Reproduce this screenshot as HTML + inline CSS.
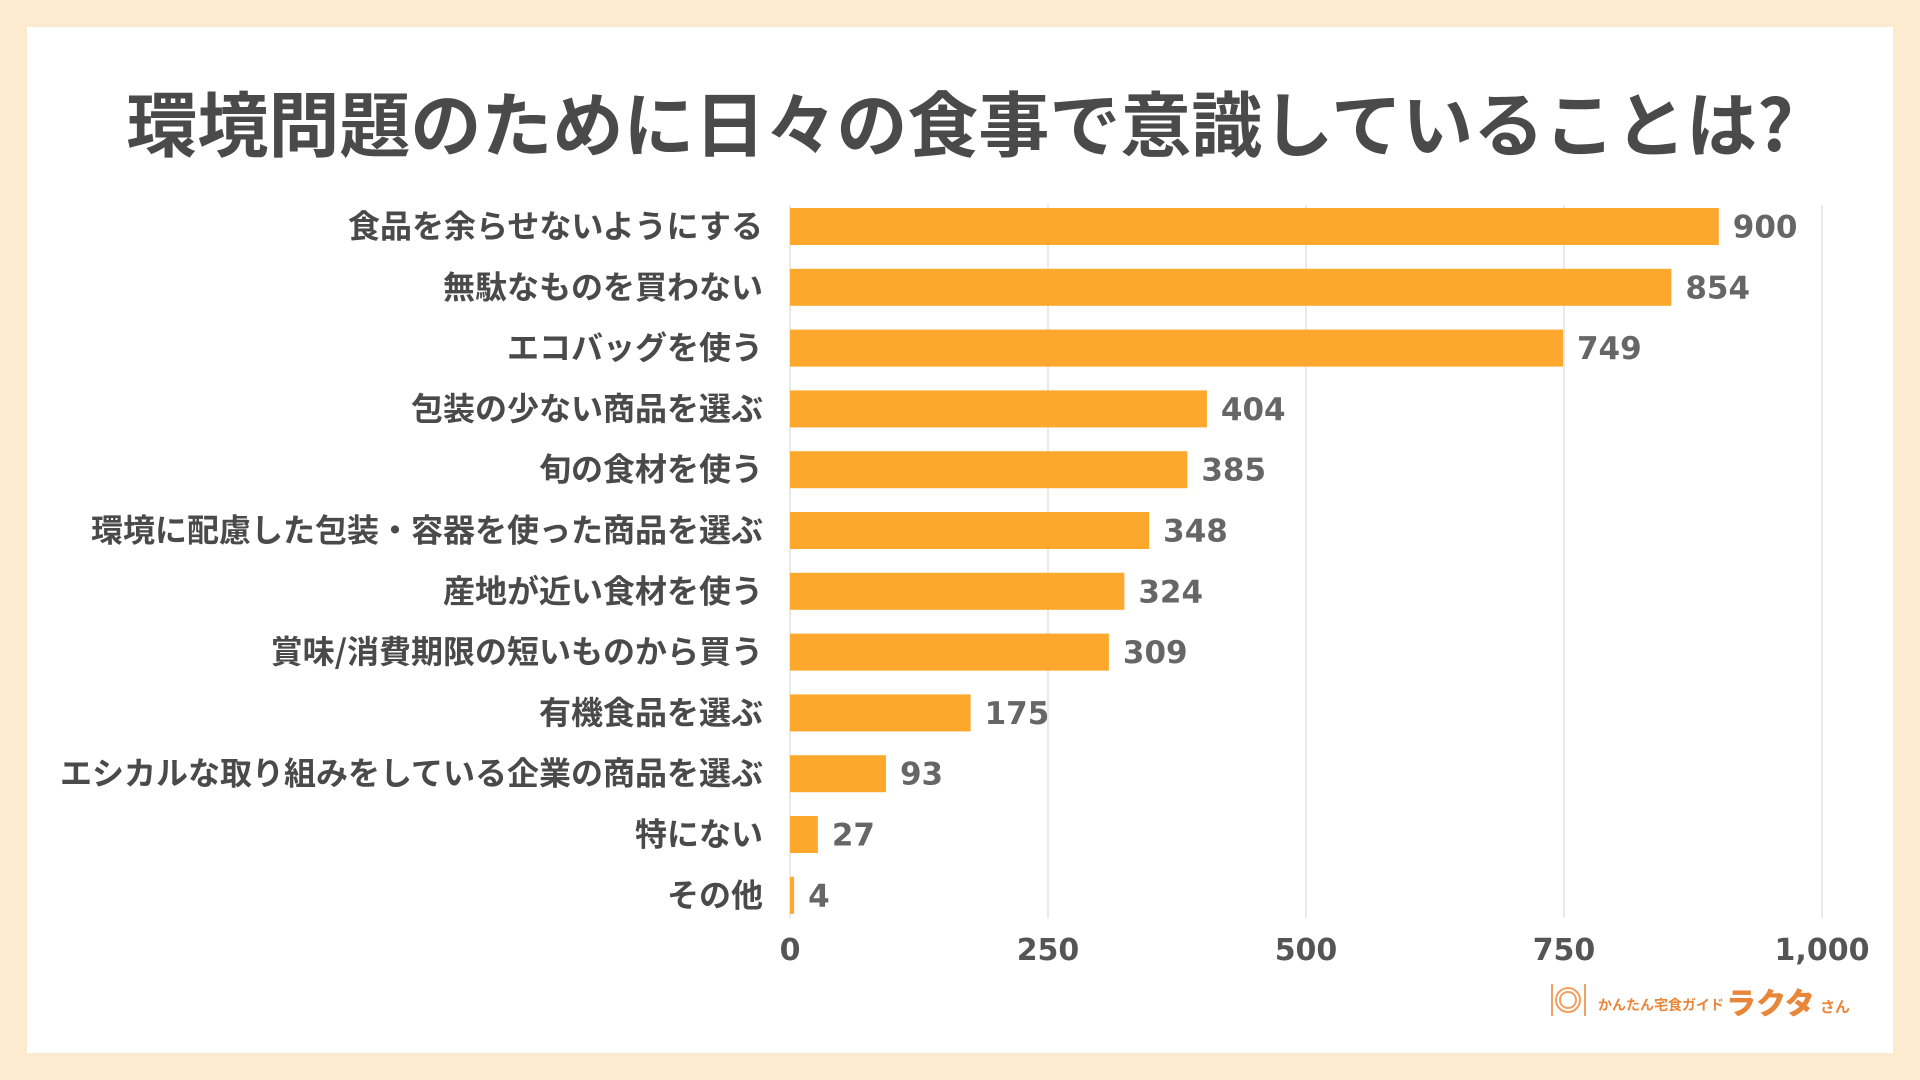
<!DOCTYPE html>
<html><head><meta charset="utf-8">
<style>
html,body{margin:0;padding:0;}
body{width:1920px;height:1080px;background:#FDEBD0;position:relative;overflow:hidden;font-family:"Liberation Sans","Noto Sans CJK JP",sans-serif;}
#panel{position:absolute;left:27px;top:27px;width:1866px;height:1026px;background:#fff;}
svg{position:absolute;left:0;top:0;}
</style></head>
<body>
<div id="panel"></div>
<svg id="chart" width="1920" height="1080">
<text x="960" y="151" text-anchor="middle" font-size="71" font-weight="bold" fill="#4a4a4a" font-family="'Noto Sans CJK JP',sans-serif">環境問題のために日々の食事で意識していることは?</text>
<g id="grid"></g><g id="bars"></g><g id="labels"></g><g id="ticks"></g>
<g transform="translate(1548,982)">
<g stroke="#F0A060" stroke-width="2" fill="none">
<line x1="4" y1="2" x2="4" y2="34"/><circle cx="20" cy="18" r="12"/><circle cx="20" cy="18" r="8"/><line x1="37" y1="2" x2="37" y2="34"/></g>
<text x="50" y="28" font-size="14" font-weight="bold" fill="#E8873A" font-family="'Noto Sans CJK JP',sans-serif">かんたん宅食ガイド</text>
<text x="178" y="32" font-size="30" font-weight="900" fill="#E8873A" font-family="'Noto Sans CJK JP',sans-serif">ラクタ</text>
<text x="272" y="30" font-size="15" font-weight="bold" fill="#E8873A" font-family="'Noto Sans CJK JP',sans-serif">さん</text>
</g>
</svg>
<script>
const categories=["食品を余らせないようにする","無駄なものを買わない","エコバッグを使う","包装の少ない商品を選ぶ","旬の食材を使う","環境に配慮した包装・容器を使った商品を選ぶ","産地が近い食材を使う","賞味/消費期限の短いものから買う","有機食品を選ぶ","エシカルな取り組みをしている企業の商品を選ぶ","特にない","その他"];
const values=[900,854,749,404,385,348,324,309,175,93,27,4];
const tickValues=[0,250,500,750,1000];
const tickLabels=["0","250","500","750","1,000"];
const NS="http://www.w3.org/2000/svg";
const x0=790,pxPer=1032/1000,y0=226.5,step=60.8,bh=37;
const xs=v=>x0+v*pxPer, ys=i=>y0+i*step;
function mk(t,a,p){const e=document.createElementNS(NS,t);for(const k in a)e.setAttribute(k,a[k]);p.appendChild(e);return e;}
const g=document.getElementById('grid'),b=document.getElementById('bars'),l=document.getElementById('labels'),tk=document.getElementById('ticks');
tickValues.forEach((v,i)=>{
 const ln=mk('line',{x1:xs(v),x2:xs(v),y1:205,y2:918,stroke:'#e2e2e2','stroke-width':1.5},g);
 
 
 const t=mk('text',{x:xs(v),y:960,'text-anchor':'middle','font-size':30,'font-weight':'bold',fill:'#555','font-family':"'DejaVu Sans',sans-serif"},tk);
 t.textContent=tickLabels[i];
 
 
});
categories.forEach((c,i)=>{
 const r=mk('rect',{x:x0,y:ys(i)-bh/2,width:xs(values[i])-x0,height:bh,fill:'#FBA82C'},b);
 
 
 const t=mk('text',{x:763,y:ys(i)+11,'text-anchor':'end','font-size':32,'font-weight':'bold',fill:'#4a4a4a','font-family':"'Noto Sans CJK JP',sans-serif"},l);
 t.textContent=c;
 
 
 const v=mk('text',{x:xs(values[i])+14,y:ys(i)+11,'font-size':31,'font-weight':'bold',fill:'#666','font-family':"'DejaVu Sans',sans-serif"},l);
 v.textContent=values[i];
 
 
});
</script>
</body></html>
